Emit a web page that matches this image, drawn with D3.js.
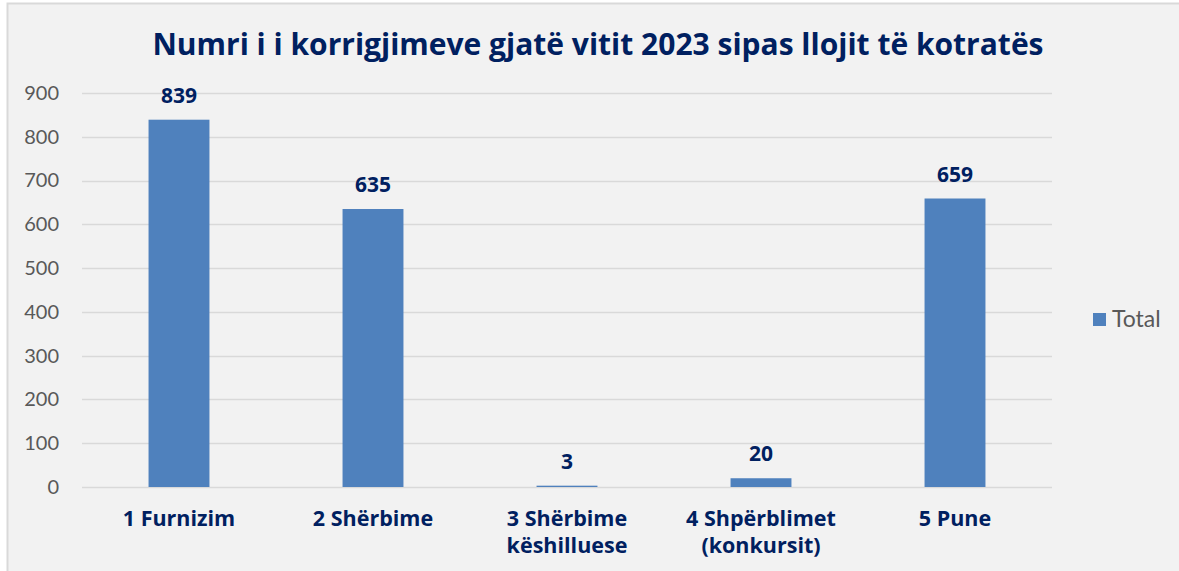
<!DOCTYPE html>
<html>
<head>
<meta charset="utf-8">
<script src="https://cdn.jsdelivr.net/npm/d3@7"></script>
<style>
  body { margin: 0; background: #fff; }
  svg { display: block; font-family: "Open Sans", Lato, sans-serif; }
</style>
</head>
<body>
<div id="chart"></div>
<script>
// donnees du graphique
const categories = [["1 Furnizim"], ["2 Shërbime"], ["3 Shërbime", "këshilluese"], ["4 Shpërblimet", "(konkursit)"], ["5 Pune"]];
const valeurs = [839, 635, 3, 20, 659];
const ticks = [0, 100, 200, 300, 400, 500, 600, 700, 800, 900];
const titre = "Numri i i korrigjimeve gjatë vitit 2023 sipas llojit të kotratës";
const serie = "Total";

const width = 1179, height = 571;
const marginLeft = 82, marginRight = 127, marginTop = 93, marginBottom = 84;
const navy = "#002060";

const svg = d3.select("#chart").append("svg")
    .attr("width", width)
    .attr("height", height);

// fond + bordure
svg.append("rect").attr("x", 7).attr("y", 3).attr("width", width - 7).attr("height", height - 3)
    .attr("fill", "#f2f2f2");
svg.append("path").attr("d", `M7.5,${height} V3.5 H${width}`)
    .attr("fill", "none").attr("stroke", "#d9d9d9").attr("stroke-width", 2);

const x = d3.scaleBand()
    .domain(d3.range(categories.length))
    .range([marginLeft, width - marginRight])
    .paddingInner(0.686).paddingOuter(0.343);

const y = d3.scaleLinear()
    .domain([0, 900])
    .range([height - marginBottom, marginTop]);

// grille
svg.append("g").selectAll("line").data(ticks).join("line")
    .attr("x1", marginLeft).attr("x2", width - marginRight)
    .attr("y1", d => Math.round(y(d)) + 0.5).attr("y2", d => Math.round(y(d)) + 0.5)
    .attr("stroke", "#d9d9d9").attr("stroke-width", 1.5);

// axe Y
const yAxis = svg.append("g")
    .attr("transform", `translate(${marginLeft - 23},0)`)
    .call(d3.axisLeft(y).tickValues(ticks).tickSize(0).tickPadding(0));
yAxis.select(".domain").remove();
yAxis.selectAll("text").attr("fill", "#595959").attr("font-size", 20)
    .attr("font-family", "Lato, 'Open Sans', sans-serif");

// barres
svg.append("g").attr("fill", "#4f81bd")
    .selectAll("rect").data(valeurs).join("rect")
    .attr("x", (d, i) => x(i))
    .attr("y", d => y(d))
    .attr("width", x.bandwidth())
    .attr("height", d => y(0) - y(d));

// etiquettes de valeurs
svg.append("g").selectAll("text").data(valeurs).join("text")
    .attr("x", (d, i) => x(i) + x.bandwidth() / 2)
    .attr("y", d => y(d) - 17)
    .attr("text-anchor", "middle")
    .attr("fill", navy).attr("font-weight", "bold").attr("font-size", 21)
    .text(d => d);

// libelles categories
const lab = svg.append("g").selectAll("text").data(categories).join("text")
    .attr("x", (d, i) => x(i) + x.bandwidth() / 2)
    .attr("y", height - marginBottom + 39)
    .attr("text-anchor", "middle")
    .attr("fill", navy).attr("font-weight", "bold").attr("font-size", 21.5);
lab.selectAll("tspan").data(d => d).join("tspan")
    .attr("x", function () { return d3.select(this.parentNode).attr("x"); })
    .attr("dy", (d, i) => i === 0 ? 0 : 27)
    .text(d => d);

// titre
svg.append("text")
    .attr("x", 598).attr("y", 55)
    .attr("text-anchor", "middle")
    .attr("fill", navy).attr("font-weight", "bold").attr("font-size", 30)
    .text(titre);

// legende
svg.append("rect").attr("x", 1093).attr("y", 313).attr("width", 13).attr("height", 13).attr("fill", "#4f81bd");
svg.append("text").attr("x", 1112).attr("y", 327)
    .attr("fill", "#595959").attr("font-size", 23)
    .attr("font-family", "Lato, 'Open Sans', sans-serif").text(serie);
</script>
</body>
</html>
